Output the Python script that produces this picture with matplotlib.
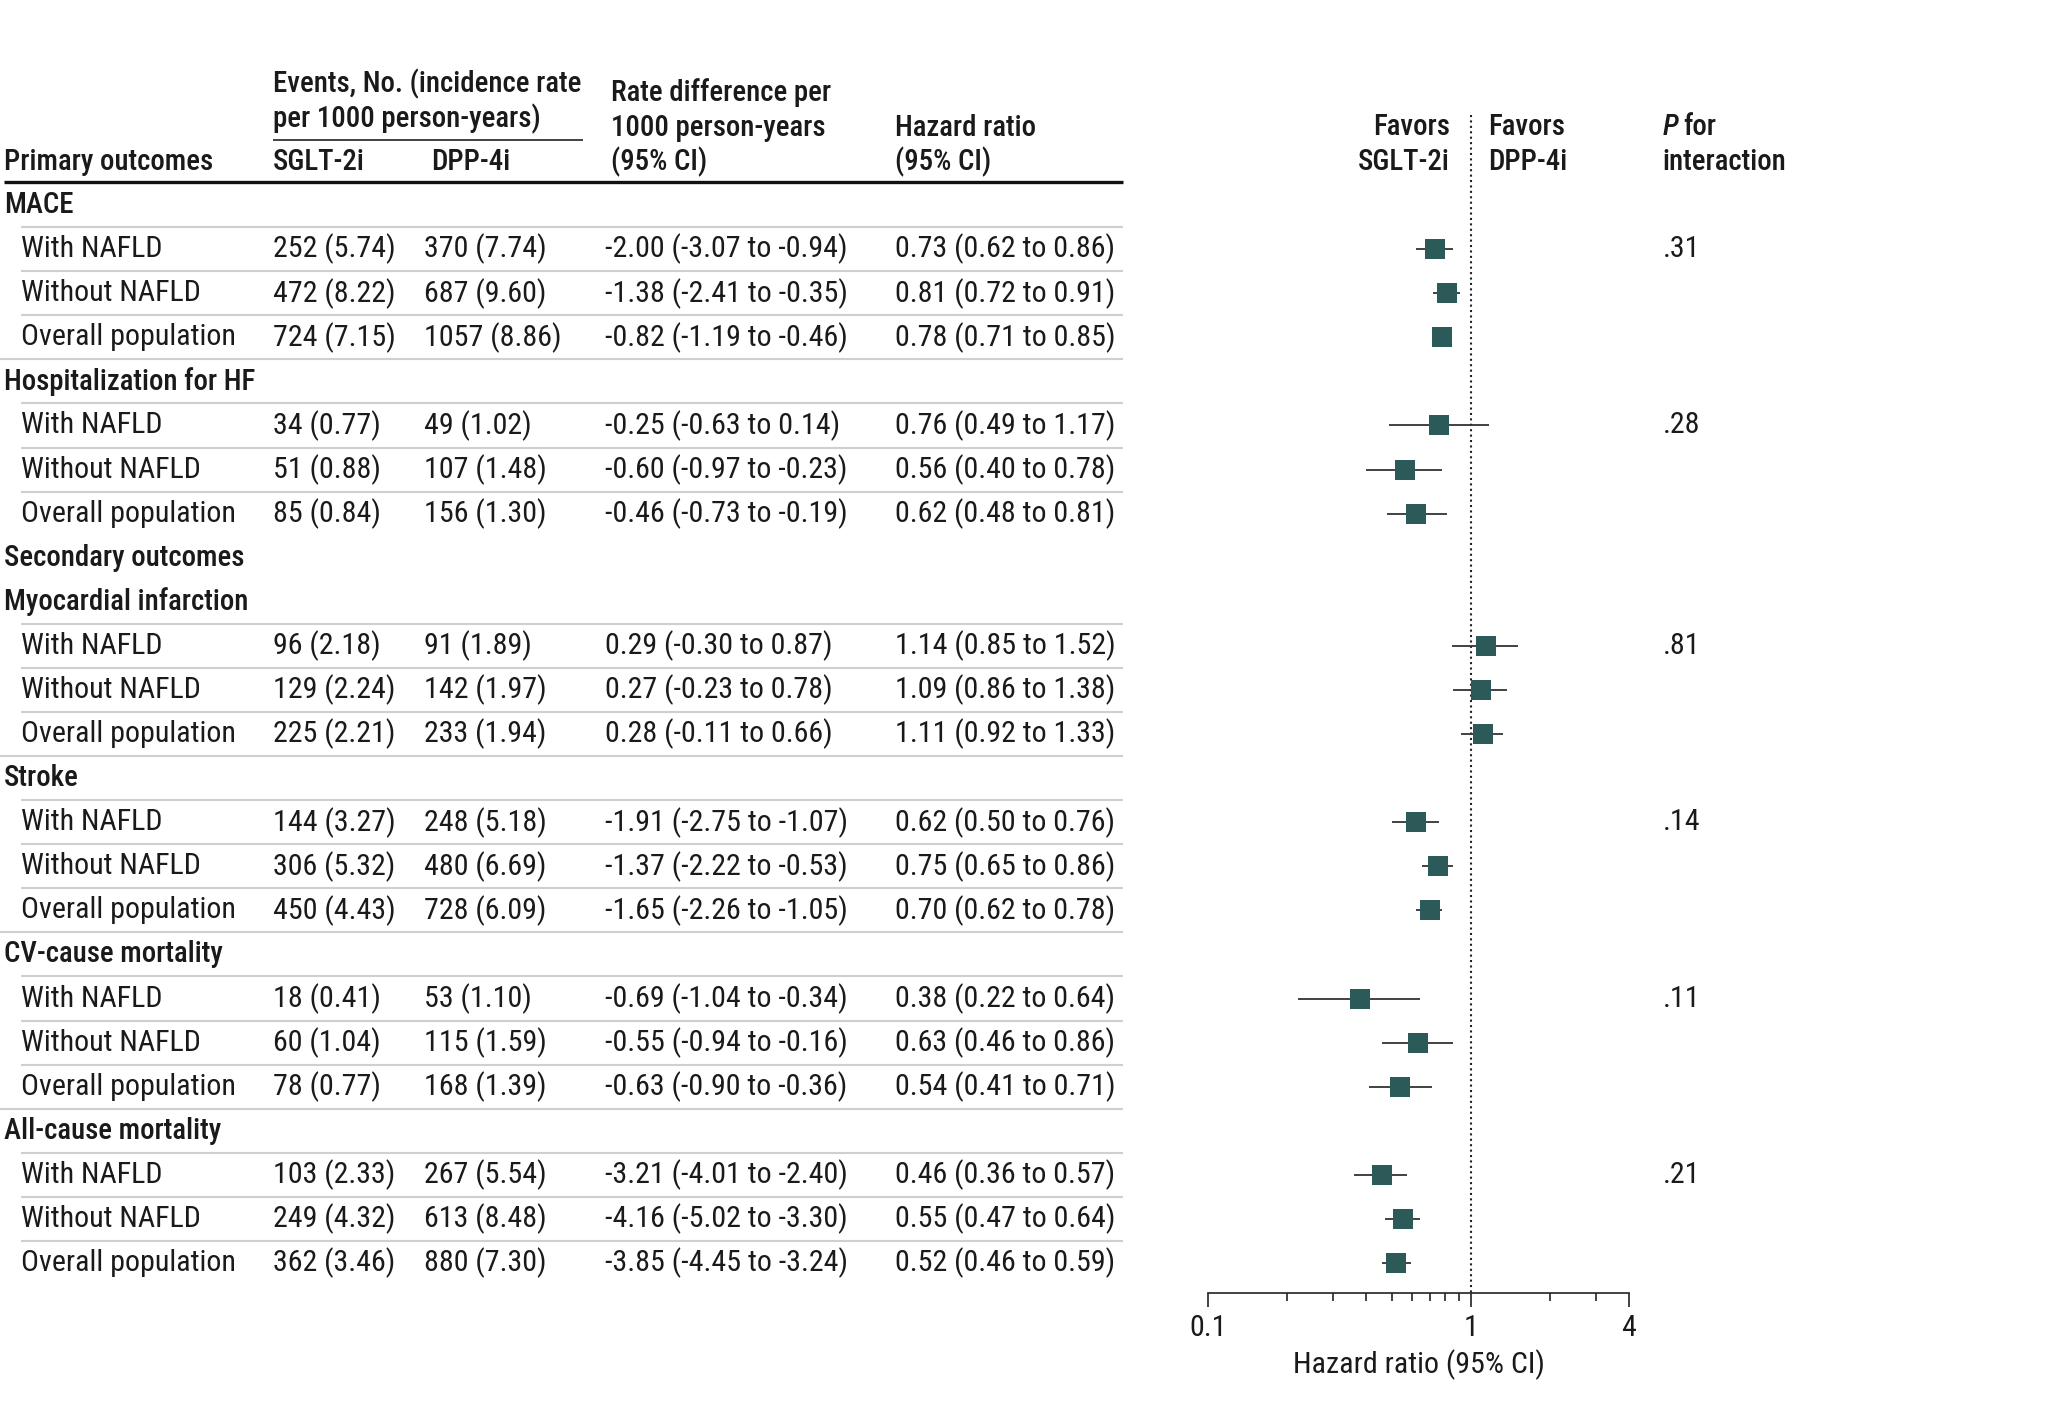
import matplotlib
matplotlib.use("Agg")
import matplotlib.pyplot as plt
from matplotlib import font_manager
from matplotlib.ticker import FixedLocator, NullFormatter

# ---------------- data ----------------
groups = ["MACE", "Hospitalization for HF", "Myocardial infarction",
          "Stroke", "CV-cause mortality", "All-cause mortality"]
subgroups = ["With NAFLD", "Without NAFLD", "Overall population"]

sglt_events = [[252, 472, 724], [34, 51, 85], [96, 129, 225],
               [144, 306, 450], [18, 60, 78], [103, 249, 362]]
sglt_rate = [[5.74, 8.22, 7.15], [0.77, 0.88, 0.84], [2.18, 2.24, 2.21],
             [3.27, 5.32, 4.43], [0.41, 1.04, 0.77], [2.33, 4.32, 3.46]]
dpp_events = [[370, 687, 1057], [49, 107, 156], [91, 142, 233],
              [248, 480, 728], [53, 115, 168], [267, 613, 880]]
dpp_rate = [[7.74, 9.60, 8.86], [1.02, 1.48, 1.30], [1.89, 1.97, 1.94],
            [5.18, 6.69, 6.09], [1.10, 1.59, 1.39], [5.54, 8.48, 7.30]]
rate_diff = [[-2.00, -1.38, -0.82], [-0.25, -0.60, -0.46], [0.29, 0.27, 0.28],
             [-1.91, -1.37, -1.65], [-0.69, -0.55, -0.63], [-3.21, -4.16, -3.85]]
rate_diff_lo = [[-3.07, -2.41, -1.19], [-0.63, -0.97, -0.73], [-0.30, -0.23, -0.11],
                [-2.75, -2.22, -2.26], [-1.04, -0.94, -0.90], [-4.01, -5.02, -4.45]]
rate_diff_hi = [[-0.94, -0.35, -0.46], [0.14, -0.23, -0.19], [0.87, 0.78, 0.66],
                [-1.07, -0.53, -1.05], [-0.34, -0.16, -0.36], [-2.40, -3.30, -3.24]]
hr = [[0.73, 0.81, 0.78], [0.76, 0.56, 0.62], [1.14, 1.09, 1.11],
      [0.62, 0.75, 0.70], [0.38, 0.63, 0.54], [0.46, 0.55, 0.52]]
hr_lo = [[0.62, 0.72, 0.71], [0.49, 0.40, 0.48], [0.85, 0.86, 0.92],
         [0.50, 0.65, 0.62], [0.22, 0.46, 0.41], [0.36, 0.47, 0.46]]
hr_hi = [[0.86, 0.91, 0.85], [1.17, 0.78, 0.81], [1.52, 1.38, 1.33],
         [0.76, 0.86, 0.78], [0.64, 0.86, 0.71], [0.57, 0.64, 0.59]]
p_interaction = [".31", ".28", ".81", ".14", ".11", ".21"]

section_title = "Secondary outcomes"
section_before_group = 2  # inserted before "Myocardial infarction"

x_ticks_major = [0.1, 1, 4]
x_ticks_minor = [0.2, 0.3, 0.4, 0.5, 0.6, 0.7, 0.8, 0.9, 2, 3]

# ---------------- style ----------------
W, H = 2048, 1419
K = W / 1568.0  # layout measured on a 1568-wide view

fonts = font_manager.fontManager.ttflist
names = {f.name for f in fonts}
FONT = "DejaVu Sans"
for cand in ["Roboto Condensed", "Liberation Sans Narrow", "Roboto", "Lato"]:
    if cand in names:
        FONT = cand
        break
plt.rcParams["font.family"] = [FONT, "DejaVu Sans"]

def _w(x):
    return x if isinstance(x, int) else font_manager.weight_dict.get(x, 400)

weights = sorted({_w(f.weight) for f in fonts if f.name == FONT})
mid = [w for w in weights if 500 <= w <= 600]
HW = mid[0] if mid else "bold"

TXT = "#1a1a1a"
SQ = "#2b5a58"
RULE = "#cfcfcf"

fig = plt.figure(figsize=(W / 100, H / 100), dpi=100)
tab = fig.add_axes([0, 0, 1, 1])
tab.set_xlim(0, W)
tab.set_ylim(H, 0)
tab.axis("off")

# fit font sizes to reference widths
renderer = fig.canvas.get_renderer()
probe = tab.text(0, 0, "Overall population", fontsize=20)
FS = 20 * (164 * K) / probe.get_window_extent(renderer).width
probe.remove()
probe = tab.text(0, 0, "Events, No. (incidence rate", fontsize=20, fontweight=HW)
FSH = 20 * (237 * K) / probe.get_window_extent(renderer).width
probe.remove()
FSH = min(FSH, FS * 1.02)

# column positions (pixels)
X_GROUP, X_SUB = 3 * K, 16 * K
X_SG, X_DP, X_RD, X_HR = 209 * K, 325 * K, 463 * K, 685 * K
X_RIGHT = 860 * K
X_P = 1273 * K

# ---------------- header ----------------
hdr = dict(fontsize=FSH, color=TXT, fontweight=HW, va="center", ha="left")
tab.text(X_SG, 64 * K, "Events, No. (incidence rate", **hdr)
tab.text(X_SG, 91 * K, "per 1000 person-years)", **hdr)
tab.plot([X_SG, 446 * K], [107 * K, 107 * K], color="#333333", lw=1.3,
         solid_capstyle="butt")
tab.text(X_GROUP, 124 * K, "Primary outcomes", **hdr)
tab.text(X_SG, 124 * K, "SGLT-2i", **hdr)
tab.text(330 * K, 124 * K, "DPP-4i", **hdr)
tab.text(468 * K, 71 * K, "Rate difference per", **hdr)
tab.text(468 * K, 98 * K, "1000 person-years", **hdr)
tab.text(468 * K, 124 * K, "(95% CI)", **hdr)
tab.text(X_HR, 98 * K, "Hazard ratio", **hdr)
tab.text(X_HR, 124 * K, "(95% CI)", **hdr)
tab.plot([X_GROUP, X_RIGHT], [139.5 * K, 139.5 * K], color="#111111", lw=2.4,
         solid_capstyle="butt")

tab.text(1110 * K, 97 * K, "Favors", **{**hdr, "ha": "right"})
tab.text(1110 * K, 124 * K, "SGLT-2i", **{**hdr, "ha": "right"})
tab.text(1139 * K, 97 * K, "Favors", **hdr)
tab.text(1139 * K, 124 * K, "DPP-4i", **hdr)
tab.text(X_P, 97 * K, "P", **{**hdr, "fontstyle": "italic"})
tab.text(X_P + 16 * K, 97 * K, "for", **hdr)
tab.text(X_P, 124 * K, "interaction", **hdr)

# ---------------- rows ----------------
Y0, STEP = 157 * K, 33.75 * K
rows = []
for gi, g in enumerate(groups):
    if gi == section_before_group:
        rows.append(("section", section_title, None, None))
    rows.append(("group", g, gi, None))
    for si, s in enumerate(subgroups):
        rows.append(("sub", s, gi, si))

row_y = [Y0 + i * STEP for i in range(len(rows))]

# forest axes
AX_L, AX_R, AX_B = 925 * K, 1247 * K, 990 * K
ax = fig.add_axes([AX_L / W, (H - AX_B) / H, (AX_R - AX_L) / W, AX_B / H])
ax.set_xscale("log")
ax.set_xlim(x_ticks_major[0], x_ticks_major[-1])
ax.set_ylim(AX_B, 0)
ax.patch.set_alpha(0)
for sp in ["top", "left", "right"]:
    ax.spines[sp].set_visible(False)
ax.spines["bottom"].set_linewidth(1.2)
ax.spines["bottom"].set_color("#222222")
ax.yaxis.set_visible(False)
ax.xaxis.set_major_locator(FixedLocator(x_ticks_major))
ax.xaxis.set_minor_locator(FixedLocator(x_ticks_minor))
ax.xaxis.set_minor_formatter(NullFormatter())
ax.set_xticklabels([f"{v:g}" for v in x_ticks_major])
ax.tick_params(axis="x", which="major", direction="out", length=10, width=1.2,
               color="#222222", labelsize=FS, labelcolor=TXT, pad=5)
ax.tick_params(axis="x", which="minor", direction="out", length=6, width=1.2,
               color="#222222")
ax.vlines(1, 88 * K, AX_B, colors="#222222", linestyles=(0, (1, 1.6)), lw=1.5)
tab.text((AX_L + AX_R) / 2, 1045 * K, "Hazard ratio (95% CI)", fontsize=FS,
         color=TXT, ha="center", va="center")

reg = dict(fontsize=FS, color=TXT, va="center", ha="left")
prev = None
for (kind, label, gi, si), y in zip(rows, row_y):
    yline = y - STEP / 2
    if kind == "sub":
        tab.plot([X_SUB, X_RIGHT], [yline, yline], color=RULE, lw=1.5,
                 solid_capstyle="butt")
    elif kind == "group" and prev not in (None, "section"):
        tab.plot([0, X_RIGHT], [yline, yline], color=RULE, lw=1.5,
                 solid_capstyle="butt")
    prev = kind
    if kind in ("section", "group"):
        tab.text(X_GROUP, y, label, **{**reg, "fontsize": FSH, "fontweight": HW})
        continue
    tab.text(X_SUB, y, label, **reg)
    tab.text(X_SG, y, f"{sglt_events[gi][si]} ({sglt_rate[gi][si]:.2f})", **reg)
    tab.text(X_DP, y, f"{dpp_events[gi][si]} ({dpp_rate[gi][si]:.2f})", **reg)
    tab.text(X_RD, y, f"{rate_diff[gi][si]:.2f} ({rate_diff_lo[gi][si]:.2f} to "
                      f"{rate_diff_hi[gi][si]:.2f})", **reg)
    tab.text(X_HR, y, f"{hr[gi][si]:.2f} ({hr_lo[gi][si]:.2f} to {hr_hi[gi][si]:.2f})", **reg)
    if si == 0:
        tab.text(X_P, y, p_interaction[gi], **reg)
    ax.plot([hr_lo[gi][si], hr_hi[gi][si]], [y, y], color="#333333", lw=1.3,
            solid_capstyle="butt", zorder=2)
    ax.plot([hr[gi][si]], [y], marker="s", markersize=15, color=SQ,
            markeredgewidth=0, zorder=3)

fig.savefig("out.png", dpi=100)
